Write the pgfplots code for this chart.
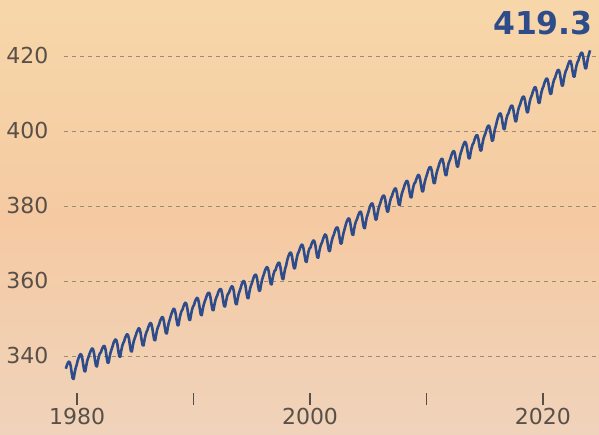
\documentclass[border=0pt]{standalone}
\usepackage{fontspec}
\setmainfont{DejaVu Sans}
\usepackage{pgfplots}
\pgfplotsset{compat=1.18}

\definecolor{bgtop}{RGB}{247,215,170}
\definecolor{bgmid}{RGB}{245,202,162}
\definecolor{bgbot}{RGB}{240,211,187}
\definecolor{co2blue}{RGB}{47,76,138}
\definecolor{labgray}{RGB}{88,80,72}
\definecolor{gridgray}{RGB}{155,137,122}

\begin{document}
\begin{tikzpicture}
\shade[top color=bgtop, bottom color=bgbot, middle color=bgmid] (-64pt,-41pt) rectangle (535pt,393pt);
\useasboundingbox (-64pt,-41pt) rectangle (535pt,393pt);
\begin{axis}[
    scale only axis,
    width=535pt, height=393pt,
    xmin=1978.88, xmax=2024.81,
    ymin=330.13, ymax=434.93,
    axis line style={draw=none},
    ytick={340,360,...,420},
    xtick={1980,1990,2000,2010,2020},
    xticklabels={1980,,2000,,2020},
    xtick pos=bottom, ytick pos=left,
    tick align=outside,
    major tick length=12pt,
    xtick style={draw=labgray, line width=1.2pt},
    ytick style={draw=none},
    ymajorgrids,
    grid style={gridgray, line width=0.8pt, dash pattern=on 4pt off 4pt},
    tick label style={font=\fontsize{22}{26}\selectfont, text=labgray},
    /pgf/number format/assume math mode=true,
]
% monthly global mean CO2 (ppm), Jan 1979 - Jan 2024
\addplot[co2blue, line width=2.6pt, line join=round, mark=none]
  table[row sep=\\, header=false, y index=0, x expr={1979+(\coordindex+0.5)/12}] {
336.6\\337.5\\338.1\\338.5\\338.3\\337.3\\335.5\\334.0\\333.9\\335.5\\336.7\\337.5\\
338.6\\339.4\\340.1\\340.5\\340.3\\339.2\\337.5\\336.0\\335.9\\337.4\\338.7\\339.5\\
340.3\\341.0\\341.6\\342.0\\341.8\\340.7\\338.9\\337.4\\337.2\\338.7\\339.9\\340.7\\
340.9\\341.7\\342.3\\342.7\\342.6\\341.5\\339.7\\338.2\\338.2\\339.7\\340.9\\341.7\\
342.5\\343.4\\344.0\\344.4\\344.2\\343.2\\341.4\\339.9\\339.8\\341.4\\342.6\\343.4\\
343.9\\344.8\\345.4\\345.8\\345.6\\344.6\\342.8\\341.3\\341.2\\342.8\\344.0\\344.8\\
345.5\\346.3\\346.9\\347.4\\347.2\\346.1\\344.3\\342.9\\342.8\\344.3\\345.5\\346.4\\
346.9\\347.7\\348.4\\348.8\\348.6\\347.5\\345.8\\344.3\\344.2\\345.7\\347.0\\347.8\\
348.4\\349.3\\349.9\\350.4\\350.3\\349.2\\347.5\\346.1\\346.0\\347.6\\348.9\\349.7\\
350.6\\351.4\\352.1\\352.6\\352.4\\351.4\\349.7\\348.2\\348.2\\349.8\\351.0\\351.9\\
352.3\\353.1\\353.8\\354.2\\354.0\\352.9\\351.2\\349.7\\349.6\\351.1\\352.4\\353.2\\
353.6\\354.5\\355.1\\355.5\\355.3\\354.3\\352.5\\351.0\\350.9\\352.5\\353.7\\354.5\\
355.2\\356.0\\356.6\\356.9\\356.7\\355.6\\353.8\\352.3\\352.2\\353.6\\354.8\\355.6\\
356.2\\357.0\\357.6\\357.9\\357.7\\356.6\\354.8\\353.3\\353.2\\354.6\\355.8\\356.6\\
356.8\\357.6\\358.2\\358.6\\358.4\\357.3\\355.4\\353.9\\353.8\\355.3\\356.5\\357.3\\
358.1\\359.0\\359.6\\360.0\\359.8\\358.8\\357.0\\355.5\\355.4\\357.0\\358.2\\359.0\\
359.7\\360.6\\361.3\\361.7\\361.6\\360.6\\358.8\\357.4\\357.4\\358.9\\360.2\\361.1\\
361.8\\362.7\\363.3\\363.7\\363.5\\362.5\\360.7\\359.2\\359.1\\360.7\\361.9\\362.7\\
362.9\\363.8\\364.4\\364.9\\364.8\\363.7\\362.0\\360.6\\360.5\\362.1\\363.4\\364.2\\
365.5\\366.4\\367.1\\367.6\\367.5\\366.5\\364.8\\363.4\\363.4\\365.0\\366.3\\367.3\\
367.8\\368.6\\369.3\\369.7\\369.5\\368.4\\366.7\\365.2\\365.1\\366.6\\367.9\\368.7\\
368.9\\369.8\\370.4\\370.8\\370.6\\369.6\\367.8\\366.3\\366.2\\367.8\\369.0\\369.8\\
370.4\\371.2\\371.9\\372.4\\372.2\\371.2\\369.5\\368.0\\368.0\\369.6\\370.8\\371.7\\
372.3\\373.2\\373.9\\374.3\\374.2\\373.2\\371.4\\370.0\\370.0\\371.5\\372.8\\373.7\\
374.7\\375.6\\376.2\\376.7\\376.6\\375.5\\373.8\\372.4\\372.3\\373.9\\375.2\\376.0\\
376.5\\377.4\\378.0\\378.5\\378.4\\377.3\\375.6\\374.2\\374.1\\375.7\\377.0\\377.8\\
378.7\\379.6\\380.3\\380.7\\380.6\\379.6\\377.8\\376.4\\376.4\\377.9\\379.2\\380.1\\
380.8\\381.7\\382.4\\382.8\\382.7\\381.7\\379.9\\378.5\\378.5\\380.0\\381.3\\382.2\\
382.7\\383.6\\384.2\\384.7\\384.6\\383.5\\381.8\\380.4\\380.3\\381.9\\383.2\\384.0\\
384.7\\385.6\\386.2\\386.7\\386.6\\385.5\\383.8\\382.4\\382.3\\383.9\\385.2\\386.0\\
386.3\\387.1\\387.8\\388.3\\388.1\\387.1\\385.4\\383.9\\383.9\\385.5\\386.7\\387.6\\
388.4\\389.3\\390.0\\390.4\\390.3\\389.3\\387.5\\386.1\\386.1\\387.6\\388.9\\389.8\\
390.6\\391.5\\392.1\\392.6\\392.5\\391.4\\389.7\\388.3\\388.2\\389.8\\391.1\\391.9\\
392.5\\393.4\\394.1\\394.6\\394.6\\393.6\\391.9\\390.5\\390.5\\392.1\\393.4\\394.3\\
395.1\\395.9\\396.6\\397.1\\396.9\\395.9\\394.2\\392.7\\392.7\\394.3\\395.5\\396.4\\
396.8\\397.7\\398.4\\398.9\\398.8\\397.8\\396.1\\394.8\\394.8\\396.4\\397.7\\398.6\\
399.2\\400.1\\400.9\\401.4\\401.4\\400.4\\398.8\\397.4\\397.5\\399.1\\400.5\\401.4\\
402.5\\403.5\\404.2\\404.7\\404.6\\403.6\\401.9\\400.5\\400.5\\402.1\\403.4\\404.3\\
404.7\\405.6\\406.3\\406.8\\406.7\\405.7\\404.0\\402.6\\402.6\\404.3\\405.6\\406.5\\
407.1\\408.0\\408.7\\409.2\\409.1\\408.1\\406.4\\405.0\\405.0\\406.6\\408.0\\408.9\\
409.5\\410.4\\411.1\\411.7\\411.6\\410.6\\408.9\\407.5\\407.5\\409.1\\410.4\\411.3\\
411.9\\412.8\\413.5\\414.0\\413.9\\412.9\\411.2\\409.9\\409.9\\411.5\\412.8\\413.7\\
414.2\\415.1\\415.8\\416.3\\416.2\\415.2\\413.5\\412.1\\412.1\\413.8\\415.1\\416.0\\
416.5\\417.4\\418.1\\418.7\\418.6\\417.6\\415.9\\414.5\\414.5\\416.1\\417.4\\418.3\\
418.8\\419.7\\420.4\\420.9\\420.8\\419.8\\418.1\\416.7\\416.7\\418.3\\419.7\\420.6\\
421.5\\
};
\node[anchor=east, inner sep=0pt, text=co2blue, font=\bfseries\fontsize{31.5}{36}\selectfont]
  at (axis cs:2024.29,428.8) {419.3};
\end{axis}
\end{tikzpicture}
\end{document}
